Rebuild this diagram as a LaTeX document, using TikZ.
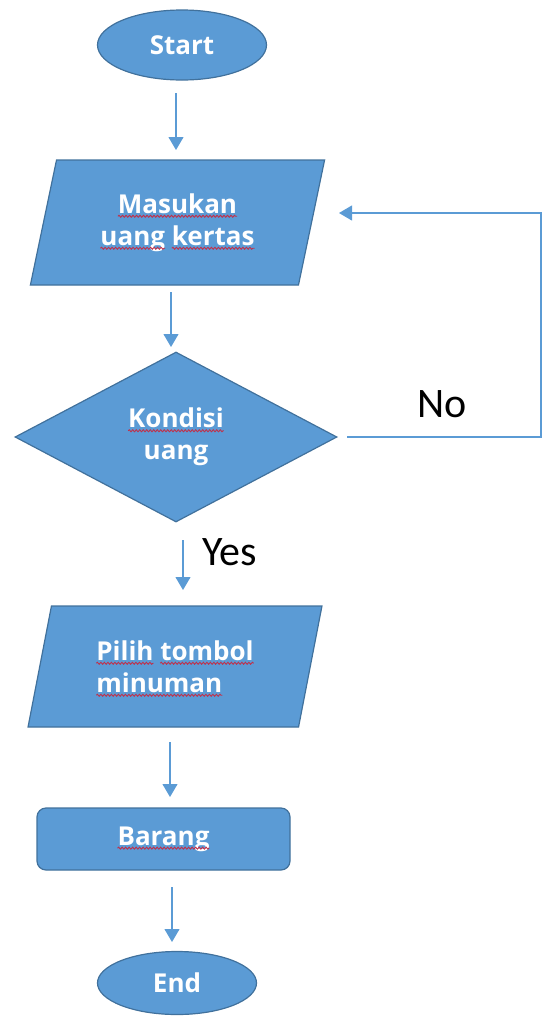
\documentclass[tikz,border=0pt]{standalone}
\usepackage{fontspec}
\setmainfont{Carlito}
\newfontfamily\boxfont{Open Sans}
\usetikzlibrary{shapes.geometric,arrows.meta,decorations.pathmorphing}
\definecolor{fillblue}{HTML}{5B9BD5}
\definecolor{edgeblue}{HTML}{41719C}
\definecolor{arrowblue}{HTML}{5B9BD5}
\definecolor{squigred}{HTML}{C0304A}
\tikzset{
  shapebase/.style={fill=fillblue, draw=edgeblue, line width=1.2pt, text=white,
    font=\boxfont\bfseries\fontsize{26}{32}\selectfont, inner sep=0pt},
  term/.style={shapebase, ellipse},
  iobox/.style={shapebase, trapezium, trapezium left angle=74, trapezium right angle=106,
    trapezium stretches=true},
  decbox/.style={shapebase, diamond, aspect=1.9},
  procbox/.style={shapebase, rectangle, rounded corners=9pt},
  arr/.style={draw=arrowblue, line width=1.1pt, -{Triangle[width=15pt,length=13pt]}},
  lbl/.style={font=\fontsize{42}{50}\selectfont, text=black, inner sep=0pt},
  squig/.style={draw=squigred, fill=none, sharp corners, line width=0.9pt, decorate,
    decoration={snake, amplitude=1pt, segment length=3.5pt}}
}
\newlength\sqwlen
\newcommand\sqw[1]{\settowidth{\sqwlen}{#1}#1\hspace{-\sqwlen}\tikz[baseline=0pt,sharp corners]{\path[use as bounding box] (0pt,0pt) rectangle (\sqwlen,0.1pt);\draw[squig] (0pt,-3pt) -- (\sqwlen,-3pt);}}
\begin{document}
\begin{tikzpicture}[x=1pt,y=-1pt]
\useasboundingbox (0,0) rectangle (548,1018);
% nodes
\node[term, minimum width=169pt, minimum height=70pt] (start) at (182,45) {Start};
\node[iobox, minimum width=295pt, minimum height=125pt, align=center] (in1) at (177.5,222.5) {\sqw{Masukan}\\\sqw{uang} \sqw{kertas}};
\node[decbox, minimum width=322pt, minimum height=170pt, align=center] (dec) at (176,437) {\sqw{Kondisi}\\uang};
\node[iobox, minimum width=294pt, minimum height=121pt, align=left] (in2) at (175,666.5) {\sqw{Pilih} \sqw{tombol}\\\sqw{minuman}};
\node[procbox, minimum width=253pt, minimum height=62pt] (proc) at (163.5,839) {\sqw{Barang}};
\node[term, minimum width=159pt, minimum height=63pt] (end) at (177,983) {End};
\node[lbl, anchor=base west] (no) at (417,417) {No};
\node[lbl, anchor=base west] (yes) at (202,565) {Yes};
% arrow end points
\coordinate (a1s) at (176,93);  \coordinate (a1e) at (176,150);
\coordinate (a2s) at (171,292); \coordinate (a2e) at (171,347);
\coordinate (a3s) at (183,540); \coordinate (a3e) at (183,590);
\coordinate (a4s) at (170,742); \coordinate (a4e) at (170,797);
\coordinate (a5s) at (172,887); \coordinate (a5e) at (172,942);
\coordinate (ls) at (347,437); \coordinate (lc1) at (541,437);
\coordinate (lc2) at (541,213); \coordinate (le) at (339,213);
% connectors
\draw[arr] (a1s) -- (a1e);
\draw[arr] (a2s) -- (a2e);
\draw[arr] (a3s) -- (a3e);
\draw[arr] (a4s) -- (a4e);
\draw[arr] (a5s) -- (a5e);
\draw[arr] (ls) -- (lc1) -- (lc2) -- (le);
\end{tikzpicture}
\end{document}
